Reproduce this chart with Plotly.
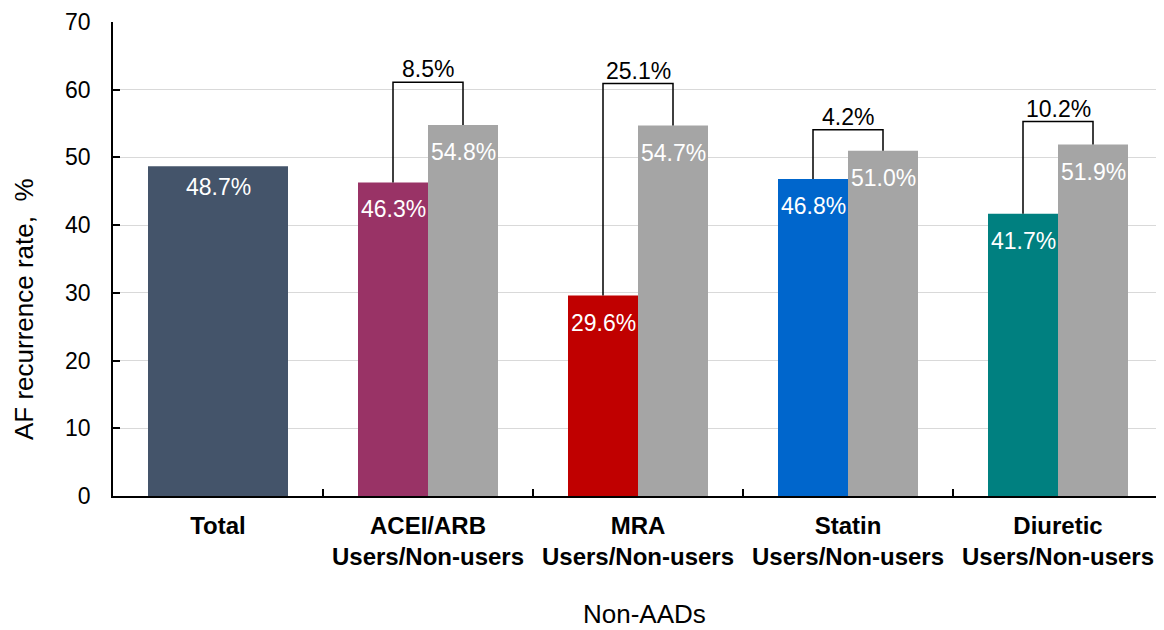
import plotly.graph_objects as go

categories = ["Total", "ACEI/ARB<br>Users/Non-users", "MRA<br>Users/Non-users",
              "Statin<br>Users/Non-users", "Diuretic<br>Users/Non-users"]
total_value = [48.7]
users_values = [46.3, 29.6, 46.8, 41.7]
nonusers_values = [54.8, 54.7, 51.0, 51.9]
diff_labels = ["8.5%", "25.1%", "4.2%", "10.2%"]
bracket_tops = [61.1, 60.9, 54.1, 55.3]
user_colors = ["#993366", "#C00000", "#0066CC", "#008080"]
total_color = "#44546A"
nonuser_color = "#A5A5A5"

FONT = "Liberation Sans, Arial, sans-serif"
BW = 1/3

fig = go.Figure()

fig.add_trace(go.Bar(
    x=[0], y=total_value, width=[2*BW], offset=-BW,
    marker=dict(color=total_color, line=dict(width=0)),
    showlegend=False,
))
xs = [1, 2, 3, 4]
fig.add_trace(go.Bar(
    x=xs, y=users_values, width=[BW]*4, offset=-BW,
    marker=dict(color=user_colors, line=dict(width=0)),
    showlegend=False,
))
fig.add_trace(go.Bar(
    x=xs, y=nonusers_values, width=[BW]*4, offset=0,
    marker=dict(color=nonuser_color, line=dict(width=0)),
    showlegend=False,
))

label_font = dict(size=23, color="white", family=FONT)
for v in total_value:
    fig.add_annotation(x=0, y=v, text=f"{v:.1f}%", showarrow=False,
                       yanchor="middle", yshift=-21, font=label_font)

for i, x in enumerate(xs):
    xl = x - BW/2
    xr = x + BW/2
    fig.add_annotation(x=xl, y=users_values[i], text=f"{users_values[i]:.1f}%",
                       showarrow=False, yanchor="middle", yshift=-27, font=label_font)
    fig.add_annotation(x=xr, y=nonusers_values[i], text=f"{nonusers_values[i]:.1f}%",
                       showarrow=False, yanchor="middle", yshift=-27, font=label_font)
    fig.add_trace(go.Scatter(
        x=[xl, xl, xr, xr],
        y=[users_values[i], bracket_tops[i], bracket_tops[i], nonusers_values[i]],
        mode="lines", line=dict(color="black", width=1.5),
        showlegend=False, hoverinfo="skip",
    ))
    fig.add_annotation(
        x=x, y=bracket_tops[i], text=diff_labels[i], showarrow=False,
        yanchor="middle", yshift=13,
        font=dict(size=23, color="black", family=FONT),
    )

# axis titles
fig.add_annotation(xref="paper", yref="paper", x=0, y=0.3945, xshift=-89,
                   text="AF recurrence rate,\u00a0 %", textangle=-90, showarrow=False,
                   xanchor="center", yanchor="middle",
                   font=dict(size=26, family=FONT, color="black"))
fig.add_annotation(xref="paper", yref="paper", x=0.5, y=0, xshift=6, yshift=-118,
                   text="Non-AADs", showarrow=False,
                   xanchor="center", yanchor="middle",
                   font=dict(size=26, family=FONT, color="black"))

fig.update_layout(
    width=1164, height=630,
    margin=dict(l=105, r=9, t=14, b=142),
    plot_bgcolor="white", paper_bgcolor="white",
    barmode="overlay",
    font=dict(family=FONT, color="black"),
)
fig.update_xaxes(
    automargin=False,
    range=[-0.5, 4.5], tickmode="array", tickvals=[0, 1, 2, 3, 4],
    ticktext=[f"<b>{c}</b>" for c in categories],
    tickfont=dict(size=24, family=FONT, color="black"),
    ticks="", showgrid=False, zeroline=False,
    showline=True, linecolor="black", linewidth=1.5,
    minor=dict(tickmode="array", tickvals=[0.5, 1.5, 2.5, 3.5], ticks="inside",
               ticklen=7, tickwidth=1.5, tickcolor="black", showgrid=False),
    ticklabelstandoff=7,
)
fig.update_yaxes(
    automargin=False,
    range=[0, 70], tickmode="array", tickvals=[0, 10, 20, 30, 40, 50, 60, 70],
    tickfont=dict(size=23, family=FONT, color="black"),
    ticks="inside", ticklen=7, tickwidth=1.5, tickcolor="black",
    showgrid=True, gridcolor="#D9D9D9", gridwidth=1.2, zeroline=False,
    showline=True, linecolor="black", linewidth=1.5,
    ticklabelstandoff=16,
)

fig.write_html("out.html")
